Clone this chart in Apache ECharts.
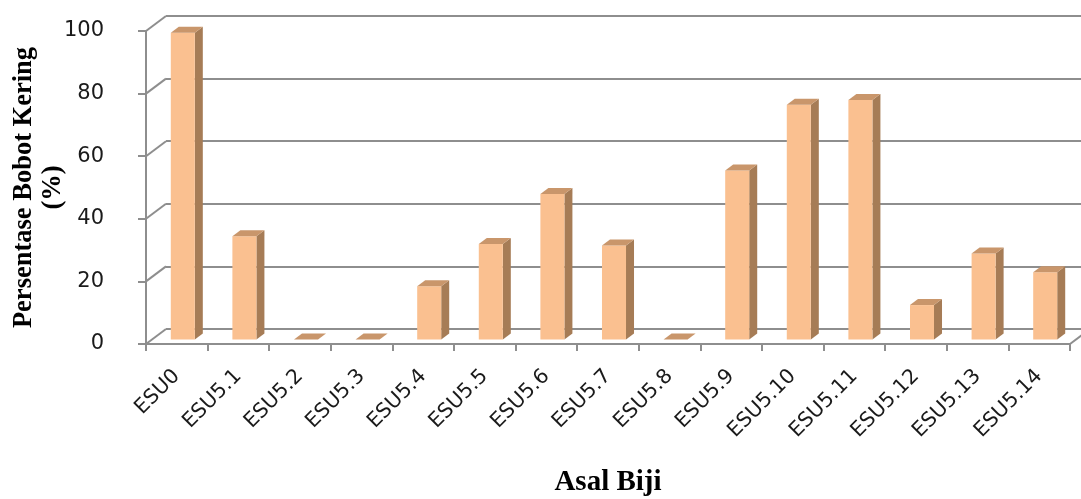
<!DOCTYPE html>
<html>
<head>
<meta charset="utf-8">
<script src="https://cdn.jsdelivr.net/npm/echarts@6/dist/echarts.min.js"></script>
<style>
html,body{margin:0;padding:0;background:#fff;}
#chart{width:1081px;height:499px;}
</style>
</head>
<body>
<div id="chart"></div>
<script>
const categories = ['ESU0','ESU5.1','ESU5.2','ESU5.3','ESU5.4','ESU5.5','ESU5.6','ESU5.7','ESU5.8','ESU5.9','ESU5.10','ESU5.11','ESU5.12','ESU5.13','ESU5.14'];
const values = [98, 33, 0, 0, 17, 30.5, 46.5, 30, 0, 54, 75, 76.5, 11, 27.5, 21.5];
const yTicks = [0, 20, 40, 60, 80, 100];

// 3D look parameters (pixels)
const DX = 20, DY = -15;          // wall depth
const BAR_D = 0.3;                // bar front plane position within depth
const BAR_DX = 8, BAR_DY = -6;    // bar depth
const BAR_W = 0.39;               // bar width as fraction of band
const GRID = {left: 146, top: 31, width: 924, height: 313};
const gridColor = '#8e8e8e';
const frontColor = '#FAC090', sideColor = '#A67C56', topColor = '#C9966B';

const chart = echarts.init(document.getElementById('chart'), null, {renderer: 'canvas'});

const option = {
  animation: false,
  backgroundColor: '#fff',
  grid: [
    {left: GRID.left, top: GRID.top, width: GRID.width, height: GRID.height, containLabel: false, outerBoundsMode: 'none'},
    {left: GRID.left + DX, top: GRID.top + DY, width: GRID.width, height: GRID.height, containLabel: false, outerBoundsMode: 'none'}
  ],
  xAxis: [
    {
      gridIndex: 0, type: 'category', data: categories, boundaryGap: true,
      axisLine: {show: true, lineStyle: {color: gridColor, width: 2}},
      axisTick: {show: true, interval: 0, length: 7, lineStyle: {color: gridColor, width: 2}},
      axisLabel: {interval: 0, rotate: 45, margin: 29, fontFamily: 'DejaVu Sans', fontSize: 20.5, color: '#1a1a1a'},
      name: 'Asal Biji', nameLocation: 'middle', nameGap: 124, nameMoveOverlap: false,
      nameTextStyle: {fontFamily: 'Liberation Serif', fontWeight: 'bold', fontSize: 29, color: '#000'}
    },
    {
      gridIndex: 1, type: 'category', data: categories, show: false
    }
  ],
  yAxis: [
    {
      gridIndex: 0, type: 'value', min: 0, max: 100, interval: 20,
      axisLine: {show: true, lineStyle: {color: gridColor, width: 2}},
      axisTick: {show: true, length: 8, lineStyle: {color: gridColor, width: 2}},
      splitLine: {show: false},
      axisLabel: {margin: 42, fontFamily: 'DejaVu Sans', fontSize: 21, color: '#1a1a1a'},
      name: 'Persentase Bobot Kering\n(%)', nameLocation: 'middle', nameRotate: 90, nameGap: 78, nameMoveOverlap: false,
      nameTextStyle: {fontFamily: 'Liberation Serif', fontWeight: 'bold', fontSize: 26.5, lineHeight: 29, color: '#000', align: 'center'}
    },
    {
      gridIndex: 1, type: 'value', min: 0, max: 100, interval: 20,
      axisLine: {show: false}, axisTick: {show: false}, axisLabel: {show: false},
      splitLine: {show: true, lineStyle: {color: gridColor, width: 2}}
    }
  ],
  series: [
    {
      // side wall / floor connector edges
      type: 'custom', xAxisIndex: 0, yAxisIndex: 0, silent: true, z: 1,
      data: yTicks.map(v => [0, v]),
      renderItem: function (params, api) {
        const cs = params.coordSys;
        const y = api.coord([0, api.value(1)])[1];
        const children = [{
          type: 'line',
          shape: {x1: cs.x, y1: y, x2: cs.x + DX, y2: y + DY},
          style: {stroke: gridColor, lineWidth: 2}
        }];
        if (api.value(1) === 0) {
          children.push({
            type: 'line',
            shape: {x1: cs.x + cs.width, y1: y, x2: cs.x + cs.width + DX, y2: y + DY},
            style: {stroke: gridColor, lineWidth: 2}
          });
        }
        return {type: 'group', children: children};
      }
    },
    {
      // 3D columns
      type: 'custom', xAxisIndex: 0, yAxisIndex: 0, z: 5,
      data: values.map((v, i) => [i, v]),
      renderItem: function (params, api) {
        const idx = api.value(0), val = api.value(1);
        const base = api.coord([idx, 0]);
        const top = api.coord([idx, val]);
        const band = api.size([1, 0])[0];
        const w = band * BAR_W;
        const ox = DX * BAR_D, oy = DY * BAR_D;
        const x0 = base[0] - w / 2 + ox, x1 = x0 + w;
        const yb = base[1] + oy, yt = top[1] + oy;
        const children = [];
        if (val > 0) {
          children.push({
            type: 'polygon',
            shape: {points: [[x1, yt], [x1 + BAR_DX, yt + BAR_DY], [x1 + BAR_DX, yb + BAR_DY], [x1, yb]]},
            style: {fill: sideColor}
          });
          children.push({
            type: 'rect',
            shape: {x: x0, y: yt, width: w, height: yb - yt},
            style: {fill: frontColor}
          });
        }
        children.push({
          type: 'polygon',
          shape: {points: [[x0, yt], [x1, yt], [x1 + BAR_DX, yt + BAR_DY], [x0 + BAR_DX, yt + BAR_DY]]},
          style: {fill: topColor}
        });
        return {type: 'group', children: children};
      }
    }
  ]
};
chart.setOption(option);
</script>
</body>
</html>
